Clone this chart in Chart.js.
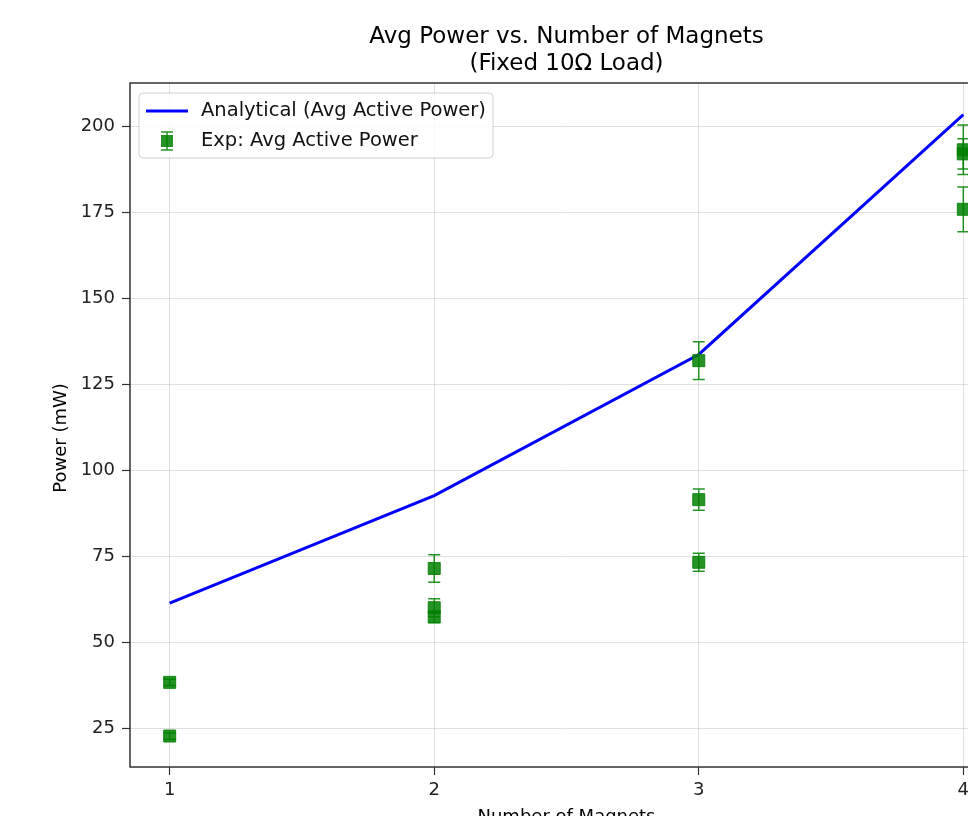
<!DOCTYPE html>
<html>
<head>
<meta charset="utf-8">
<script src="https://cdn.jsdelivr.net/npm/chart.js@4.4.1/dist/chart.umd.min.js"></script>
<style>
  html, body { margin: 0; padding: 0; background: #fff; overflow: hidden; }
  #wrap { width: 1040px; height: 832px; position: relative; }
</style>
</head>
<body>
<div id="wrap"><canvas id="powerChart"></canvas></div>
<script>
// data
const chartTitle = ['Avg Power vs. Number of Magnets', '(Fixed 10\u03A9 Load)'];
const xLabel = 'Number of Magnets';
const yLabel = 'Power (mW)';
const seriesLabels = ['Analytical (Avg Active Power)', 'Exp: Avg Active Power'];

const nMagnets = [1, 2, 3, 4];
const analyticalPower = [61.3, 92.6, 133.6, 203.3];

const expMagnets = [1, 1, 2, 2, 2, 3, 3, 3, 4, 4, 4];
const expPower = [38.3, 22.7, 71.4, 60.0, 57.3, 131.8, 91.4, 73.2, 193.1, 191.9, 175.8];
const expErr = [0.9, 0.9, 4.0, 2.6, 1.6, 5.5, 3.1, 2.6, 7.2, 4.4, 6.5];

const xTicks = [1, 2, 3, 4];
const yTicks = [25, 50, 75, 100, 125, 150, 175, 200];

const GREEN = 'rgba(0,128,0,0.85)';
const BLUE = '#0000ff';
const FONT = 'DejaVu Sans';

// error bars + frame + title + legend, all drawn through the chart scales
const extras = {
    id: 'extras',
    beforeDatasetDraw(chart, args) {
        if (args.index !== 1) return;
        const ctx = chart.ctx, xs = chart.scales.x, ys = chart.scales.y;
        ctx.save();
        ctx.strokeStyle = GREEN;
        ctx.lineWidth = 1.5;
        expPower.forEach((v, i) => {
            const px = xs.getPixelForValue(expMagnets[i]);
            const top = ys.getPixelForValue(v + expErr[i]);
            const bot = ys.getPixelForValue(v - expErr[i]);
            ctx.beginPath();
            ctx.moveTo(px, top); ctx.lineTo(px, bot);
            ctx.moveTo(px - 6, top); ctx.lineTo(px + 6, top);
            ctx.moveTo(px - 6, bot); ctx.lineTo(px + 6, bot);
            ctx.stroke();
        });
        ctx.restore();
    },
    afterDraw(chart) {
        const ctx = chart.ctx, a = chart.chartArea;
        ctx.save();
        // frame
        ctx.strokeStyle = '#333';
        ctx.lineWidth = 1.5;
        ctx.strokeRect(a.left, a.top, a.right - a.left, a.bottom - a.top);

        // title
        ctx.fillStyle = '#000';
        ctx.font = '23px "' + FONT + '"';
        ctx.textAlign = 'center';
        ctx.textBaseline = 'middle';
        const cx = (a.left + a.right) / 2;
        ctx.fillText(chartTitle[0], cx, 37);
        ctx.fillText(chartTitle[1], cx, 64);

        // y label
        ctx.save();
        ctx.translate(61, 438);
        ctx.rotate(-Math.PI / 2);
        ctx.font = '18px "' + FONT + '"';
        ctx.fillText(yLabel, 0, 0);
        ctx.restore();

        // legend
        const lx = a.left + 9, ly = a.top + 10, lw = 354, lh = 65;
        ctx.beginPath();
        ctx.roundRect(lx, ly, lw, lh, 4);
        ctx.fillStyle = 'rgba(255,255,255,0.85)';
        ctx.fill();
        ctx.strokeStyle = 'rgba(0,0,0,0.18)';
        ctx.lineWidth = 1;
        ctx.stroke();

        const r1 = ly + 18, r2 = ly + 48;
        ctx.strokeStyle = BLUE;
        ctx.lineWidth = 3;
        ctx.beginPath();
        ctx.moveTo(lx + 7, r1); ctx.lineTo(lx + 49, r1);
        ctx.stroke();

        const mx = lx + 28;
        ctx.strokeStyle = GREEN;
        ctx.lineWidth = 1.5;
        ctx.beginPath();
        ctx.moveTo(mx, r2 - 9); ctx.lineTo(mx, r2 + 9);
        ctx.moveTo(mx - 6, r2 - 9); ctx.lineTo(mx + 6, r2 - 9);
        ctx.moveTo(mx - 6, r2 + 9); ctx.lineTo(mx + 6, r2 + 9);
        ctx.stroke();
        ctx.fillStyle = GREEN;
        ctx.fillRect(mx - 6, r2 - 6, 12, 12);

        ctx.fillStyle = '#111';
        ctx.font = '19.5px "' + FONT + '"';
        ctx.textAlign = 'left';
        ctx.fillText(chart.data.datasets[0].label, lx + 62, r1);
        ctx.fillText(chart.data.datasets[1].label, lx + 62, r2);
        ctx.restore();
    }
};

const ctx = document.getElementById('powerChart').getContext('2d');
new Chart(ctx, {
    type: 'scatter',
    data: {
        datasets: [{
            type: 'line',
            label: seriesLabels[0],
            data: nMagnets.map((x, i) => ({ x: x, y: analyticalPower[i] })),
            borderColor: BLUE,
            borderWidth: 3,
            pointRadius: 0,
            fill: false,
            tension: 0,
            order: 2
        }, {
            label: seriesLabels[1],
            data: expMagnets.map((x, i) => ({ x: x, y: expPower[i] })),
            pointStyle: 'rect',
            pointRadius: 8.5,
            backgroundColor: GREEN,
            borderColor: GREEN,
            borderWidth: 1,
            order: 1
        }]
    },
    options: {
        responsive: true,
        maintainAspectRatio: false,
        animation: false,
        layout: { padding: { left: 0, top: 83, right: 37, bottom: 0 } },
        plugins: {
            legend: { display: false },
            tooltip: { enabled: false },
            title: { display: false }
        },
        scales: {
            x: {
                type: 'linear',
                min: 0.85,
                max: 4.15,
                afterBuildTicks: (s) => { s.ticks = xTicks.map(v => ({ value: v })); },
                afterFit: (s) => { s.height = 65; },
                ticks: { color: '#222', font: { family: FONT, size: 18 }, padding: 5 },
                grid: { color: 'rgba(176,176,176,0.4)', lineWidth: 1, tickLength: 8, tickColor: '#333', tickWidth: 1.2 },
                border: { display: false },
                title: { display: true, text: xLabel, color: '#000', font: { family: FONT, size: 18 }, padding: { top: 0, bottom: 4 } }
            },
            y: {
                min: 13.7,
                max: 212.5,
                afterBuildTicks: (s) => { s.ticks = yTicks.map(v => ({ value: v })); },
                afterFit: (s) => { s.width = 130; },
                ticks: { color: '#222', font: { family: FONT, size: 18 }, padding: 7 },
                grid: { color: 'rgba(176,176,176,0.4)', lineWidth: 1, tickLength: 8, tickColor: '#333', tickWidth: 1.2 },
                border: { display: false }
            }
        }
    },
    plugins: [extras]
});
</script>
</body>
</html>
